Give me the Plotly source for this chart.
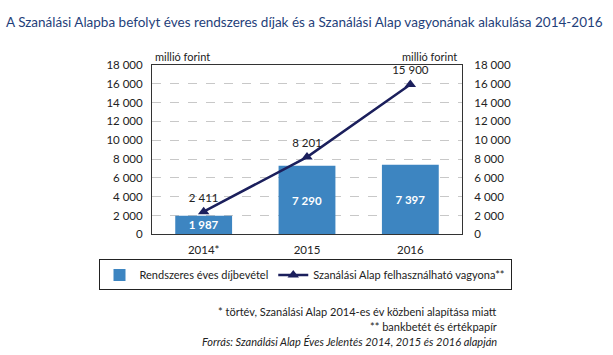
import plotly.graph_objects as go

categories = ["2014*", "2015", "2016"]
dijbevetel = [1987, 7290, 7397]
vagyon = [2411, 8201, 15900]
bar_labels = ["1 987", "7 290", "7 397"]
line_labels = ["2 411", "8 201", "15 900"]
tick_vals = list(range(0, 18001, 2000))

FONT = "Lato, Open Sans, sans-serif"
W, H = 613, 355
PL, PR, PT, PB = 152, 462, 60, 236  # plot area in pixels


def px(x):
    return x / W


def py(y):
    return 1 - y / H


fig = go.Figure()
fig.add_trace(go.Bar(
    x=categories, y=dijbevetel, name="Rendszeres éves díjbevétel",
    marker=dict(color="#3D85C1", line=dict(width=0)),
    text=bar_labels, textposition="inside", insidetextanchor="middle",
    constraintext="none",
    textfont=dict(color="white", size=11.5, family=FONT, weight="bold"),
    width=0.55,
))
fig.add_trace(go.Scatter(
    x=categories, y=vagyon, name="Szanálási Alap felhasználható vagyona**",
    mode="lines+markers+text", yaxis="y2",
    line=dict(color="#1B1F5C", width=2.5),
    marker=dict(symbol="triangle-up", size=10, color="#1B1F5C"),
    text=line_labels, textposition="top center",
    textfont=dict(color="#222222", size=11.5, family=FONT),
))

tickfont = dict(size=11.5, color="#222222", family=FONT)
axis_common = dict(range=[0, 18000], tickvals=tick_vals, tickformat=",d",
                   tickfont=tickfont, domain=[py(PB), py(PT)],
                   ticks="outside", ticklen=6, tickcolor="rgba(0,0,0,0)")
fig.update_layout(
    width=W, height=H,
    margin=dict(l=0, r=0, t=0, b=0),
    paper_bgcolor="white", plot_bgcolor="white",
    separators=", ",
    font=dict(family=FONT, color="#222222"),
    showlegend=True,
    legend=dict(orientation="h", x=px(305), xanchor="center", y=py(262), yanchor="top",
                bordercolor="#222222", borderwidth=1, font=dict(size=11, family=FONT),
                tracegroupgap=0, itemwidth=30),
    xaxis=dict(domain=[px(PL), px(PR)], showline=True, linecolor="#333333", linewidth=1,
               mirror=True, ticks="outside", ticklen=5, tickcolor="rgba(0,0,0,0)",
               tickfont=tickfont),
    yaxis=dict(**axis_common, showgrid=True, gridcolor="#C8C8C8", griddash="dash",
               showline=True, linecolor="#333333", linewidth=1, mirror=True,
               zeroline=False),
    yaxis2=dict(**axis_common, overlaying="y", side="right", showgrid=False,
                zeroline=False, anchor="x"),
    bargap=0.45,
)
fig.update_yaxes(selector=dict(side="right"), ticklen=9)

fig.add_annotation(text="A Szanálási Alapba befolyt éves rendszeres díjak és a Szanálási Alap vagyonának alakulása 2014-2016",
                   xref="paper", yref="paper", x=px(4), y=py(16),
                   xanchor="left", yanchor="middle", showarrow=False,
                   font=dict(size=13.5, color="#1F3F7A", family=FONT))
fig.add_annotation(text="millió forint", xref="paper", yref="paper", x=px(153), y=py(51),
                   xanchor="left", yanchor="middle", showarrow=False, font=dict(size=11, family=FONT))
fig.add_annotation(text="millió forint", xref="paper", yref="paper", x=px(459), y=py(51),
                   xanchor="right", yanchor="middle", showarrow=False, font=dict(size=11, family=FONT))
notes = [("* törtév, Szanálási Alap 2014-es év közbeni alapítása miatt", 316),
         ("** bankbetét és értékpapír", 332),
         ("<i>Forrás: Szanálási Alap Éves Jelentés 2014, 2015 és 2016 alapján</i>", 347)]
for t, ypix in notes:
    fig.add_annotation(text=t, xref="paper", yref="paper", x=px(499),
                       y=py(ypix), xanchor="right", yanchor="middle",
                       showarrow=False, font=dict(size=11, family=FONT))

fig.write_html("out.html")
